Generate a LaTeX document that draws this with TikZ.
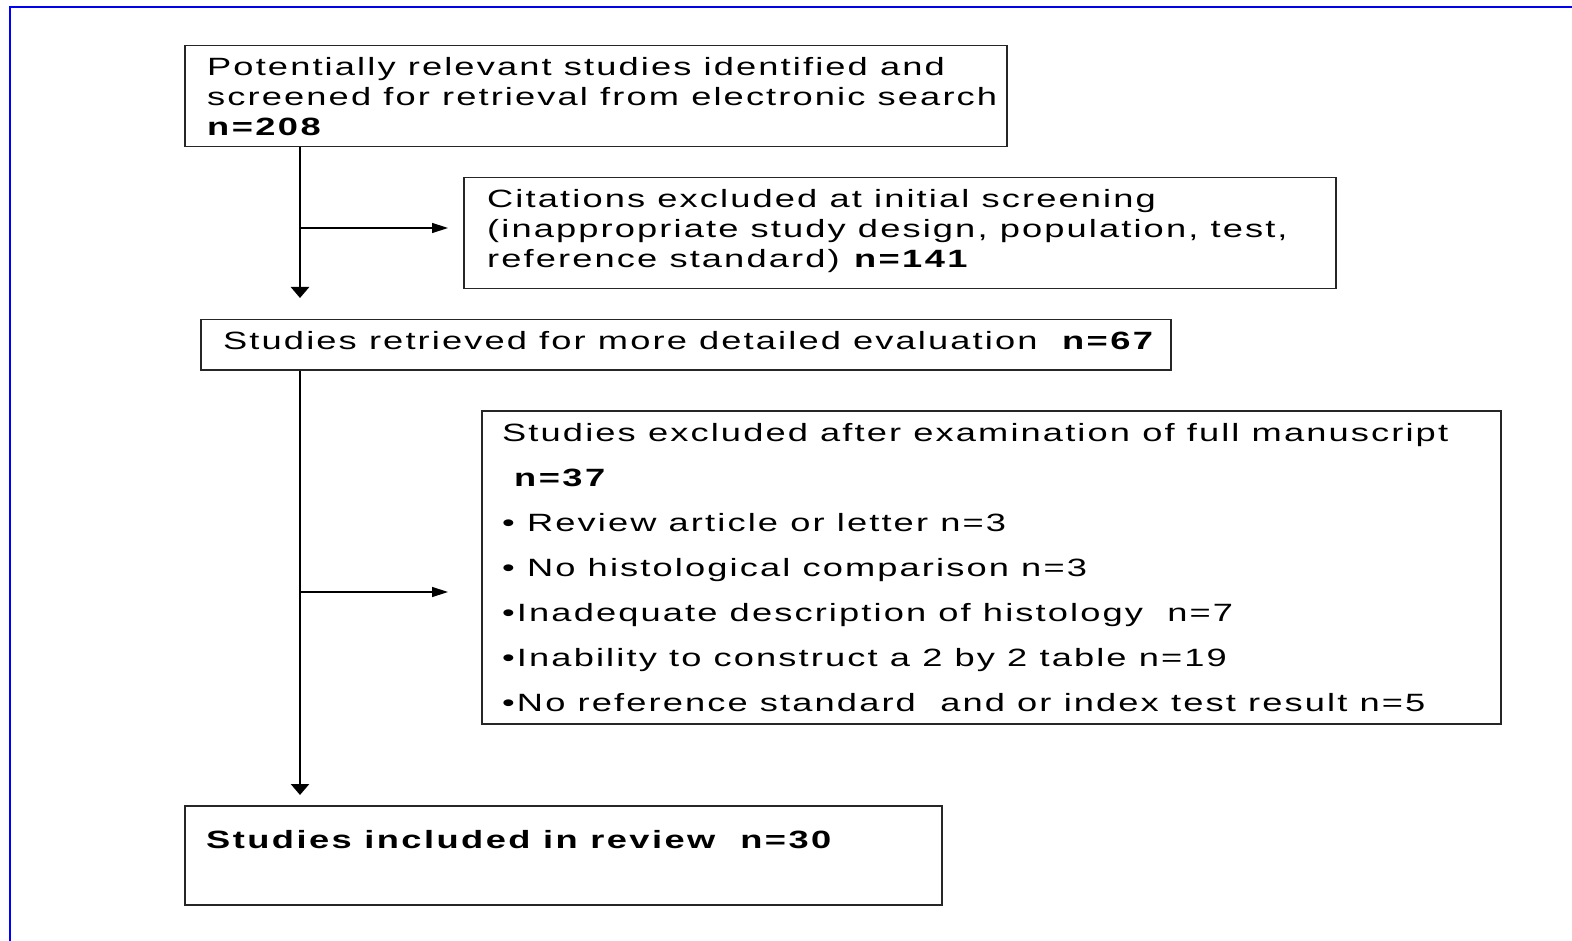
\documentclass[tikz,border=0pt]{standalone}
\usepackage{fontspec}
\setmainfont{Liberation Sans}[FakeStretch=1.45,LetterSpace=8.5,BoldFeatures={LetterSpace=9.8}]
\usetikzlibrary{arrows.meta}
\begin{document}
\begin{tikzpicture}[x=1pt,y=-1pt,
  box/.style={draw=black!85,line width=1.5pt,inner sep=0pt,anchor=north west},
  txt/.style={inner sep=0pt,anchor=base west,font=\fontsize{25}{30}\selectfont},
  main/.style={line width=2.6pt,-{Triangle[width=18pt,length=11pt]}},
  side/.style={line width=1.4pt,-{Triangle[width=10pt,length=16pt]}},
  frame/.style={draw=blue,line width=2pt}]
\useasboundingbox (0,0) rectangle (1572,941);
\draw[frame] (10,941) -- (10,7) -- (1572,7);
% boxes
\node[box,minimum width=822pt,minimum height=101pt] (b1) at (184,45) {};
\node[box,minimum width=872pt,minimum height=111pt] (b2) at (463,177) {};
\node[box,minimum width=970pt,minimum height=50pt] (b3) at (200,319) {};
\node[box,minimum width=1019pt,minimum height=313pt] (b4) at (481,410) {};
\node[box,minimum width=757pt,minimum height=99pt] (b5) at (184,805) {};
% texts
\node[txt] (t11) at (207,76) {Potentially relevant studies identified and};
\node[txt] (t12) at (207,106) {screened for retrieval from electronic search};
\node[txt] (t13) at (207,136) {\bfseries n=208};
\node[txt] (t21) at (487,208) {Citations excluded at initial screening};
\node[txt] (t22) at (487,238) {(inappropriate study design, population, test,};
\node[txt] (t23) at (487,268) {reference standard) \textbf{n=141}};
\node[txt] (t31) at (223,350) {Studies retrieved for more detailed evaluation\ \ \textbf{n=67}};
\node[txt] (t41) at (502,441) {Studies excluded after examination of full manuscript};
\node[txt] (t42) at (514,486) {\bfseries n=37};
\node[txt] (t43) at (502,531) {• Review article or letter n=3};
\node[txt] (t44) at (502,576) {• No histological comparison n=3};
\node[txt] (t45) at (502,621) {•Inadequate description of histology\ \ n=7};
\node[txt] (t46) at (502,666) {•Inability to construct a 2 by 2 table n=19};
\node[txt] (t47) at (502,711) {•No reference standard\ \ and or index test result n=5};
\node[txt] (t51) at (206,848) {\bfseries Studies included in review\ \ n=30};
% connectors
\coordinate (e1) at (300,298);
\coordinate (j1) at (300,228);
\coordinate (h1) at (448,228);
\coordinate (e2) at (300,795);
\coordinate (j2) at (300,592);
\coordinate (h2) at (448,592);
\draw[main] (b1.south -| e1) -- (e1);
\draw[side] (j1) -- (h1);
\draw[main] (b3.south -| e2) -- (e2);
\draw[side] (j2) -- (h2);
\end{tikzpicture}
\end{document}
